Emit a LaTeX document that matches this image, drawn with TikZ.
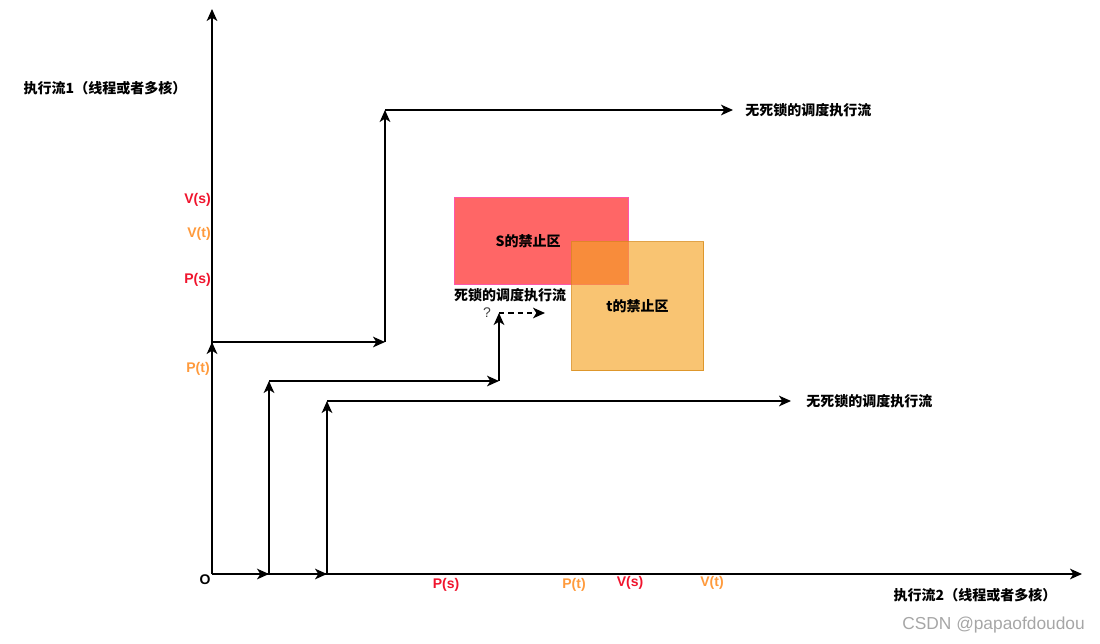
\documentclass[tikz,border=0pt]{standalone}
\usepackage{fontspec}
\setmainfont{Liberation Sans}
\newfontfamily\cjk{Noto Sans CJK SC}
\usepackage{tikz}
\usetikzlibrary{arrows.meta,positioning}
\definecolor{lockred}{HTML}{F0142D}
\definecolor{lockorange}{HTML}{FF9A3C}
\definecolor{sfill}{HTML}{FF6666}
\definecolor{sline}{HTML}{FF55AA}
\definecolor{tfill}{HTML}{F5A323}
\definecolor{tline}{HTML}{D98C1C}
\tikzset{
  flow/.style={-{Stealth[length=9pt,width=8pt,inset=2.5pt]},line width=1pt},
  txt/.style={font=\cjk\bfseries\fontsize{10.5}{12}\selectfont,inner sep=0pt},
  tick/.style={font=\bfseries\fontsize{10.5}{12}\selectfont,inner sep=0pt},
}

\begin{document}
\begin{tikzpicture}[x=0.75pt,y=-0.75pt]
\useasboundingbox (0,0) rectangle (1100,643);
% zones
\node[draw=sline,fill=sfill,line width=0.8pt,minimum width=130.5pt,minimum height=65.25pt,anchor=north west,inner sep=0pt] (szone) at (454,197) {};
\node[txt] at ([xshift=-10pt]szone.center) {S的禁止区};
\node[draw=tline,fill=tfill,fill opacity=0.64,draw opacity=0.8,text opacity=1,line width=0.8pt,minimum width=99pt,minimum height=96.75pt,anchor=north west,inner sep=0pt] (tzone) at (571,241) {};
\node[txt] at (tzone.center) {t的禁止区};
% axes
\coordinate (O) at (212,574);
\coordinate (ytop) at (212,9);
\coordinate (xend) at (1082,574);
\draw[flow] (O) -- (ytop);
\draw[flow] (O) -- (xend);
\node[txt] (yname) at (105,88) {执行流1（线程或者多核）};
\node[txt] (xname) at (975,595) {执行流2（线程或者多核）};
\node[tick] (orig) at (205,580) {O};
% first flow
\coordinate (a1) at (212,342);
\coordinate (a2) at (385,342);
\coordinate (a3) at (385,110);
\coordinate (a4) at (733,110);
\draw[flow] (O) -- (a1);
\draw[flow] (a1) -- (a2);
\draw[flow] (a2) -- (a3);
\draw[flow] (a3) -- (a4);
\node[txt,anchor=west] (okA) at (745,110) {无死锁的调度执行流};
% second flow
\coordinate (b1) at (269,574);
\coordinate (b2) at (269,381);
\coordinate (b3) at (499,381);
\coordinate (b4) at (499,313);
\coordinate (b5) at (545,313);
\draw[flow] (O) -- (b1);
\draw[flow] (b1) -- (b2);
\draw[flow] (b2) -- (b3);
\draw[flow] (b3) -- (b4);
\draw[flow,dash pattern=on 4pt off 3pt] (b4) -- (b5);
\node[txt] (dead) at (510,295) {死锁的调度执行流};
\node[font=\fontsize{10.5}{12}\selectfont,text=black!75,inner sep=0pt] (ask) at (487,313) {?};
% third flow
\coordinate (c1) at (327,574);
\coordinate (c2) at (327,401);
\coordinate (c3) at (791,401);
\draw[flow] (b1) -- (c1);
\draw[flow] (c1) -- (c2);
\draw[flow] (c2) -- (c3);
\node[txt,anchor=west] (okB) at (806,401) {无死锁的调度执行流};
% marks on axis 1
\node[tick,text=lockred,anchor=east] (vs1) at (211,200) {V(s)};
\node[tick,text=lockorange,anchor=east] (vt1) at (211,234) {V(t)};
\node[tick,text=lockred,anchor=east] (ps1) at (211,280) {P(s)};
\node[tick,text=lockorange,anchor=east] (pt1) at (210,369) {P(t)};
% marks on axis 2
\node[tick,text=lockred] (ps2) at (446,585) {P(s)};
\node[tick,text=lockorange] (pt2) at (574,585) {P(t)};
\node[tick,text=lockred] (vs2) at (630,583) {V(s)};
\node[tick,text=lockorange] (vt2) at (712,583) {V(t)};
\node[font=\fontsize{13}{15}\selectfont,text=black!35,anchor=east,inner sep=0pt] (wm) at (1085,625) {CSDN @papaofdoudou};
\end{tikzpicture}
\end{document}
